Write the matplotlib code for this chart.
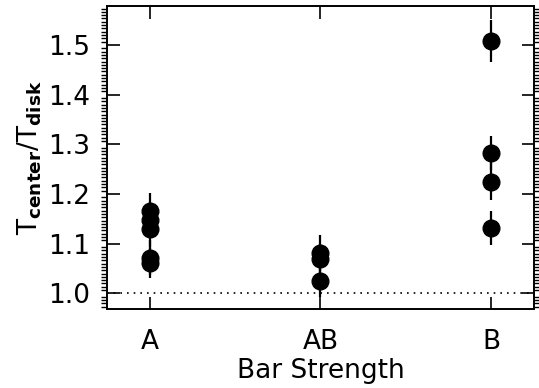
import numpy as np
import matplotlib.pyplot as plt
import matplotlib
from matplotlib.ticker import MultipleLocator, AutoMinorLocator

matplotlib.rc('font', size=19)
matplotlib.rcParams['mathtext.fontset'] = 'dejavusans'

categories = ['A', 'AB', 'B']

# T_center / T_disk per galaxy, grouped by bar strength
ratio_A = [1.165, 1.148, 1.129, 1.072, 1.062]
err_A = [0.037, 0.035, 0.035, 0.035, 0.030]
ratio_AB = [1.082, 1.069, 1.024]
err_AB = [0.036, 0.030, 0.031]
ratio_B = [1.508, 1.282, 1.225, 1.131]
err_B = [0.042, 0.034, 0.038, 0.034]

fig = plt.figure(figsize=(5.39, 3.88), dpi=100)
ax = fig.add_axes([0.1985, 0.2028, 0.7922, 0.7825])

groups = [(ratio_A, err_A), (ratio_AB, err_AB), (ratio_B, err_B)]
for i, (vals, errs) in enumerate(groups):
    xpos = np.full(len(vals), i + 1.0)
    ax.errorbar(xpos, vals, yerr=errs, fmt='o', color='k', ms=12,
                elinewidth=1.6, capsize=0, zorder=3)

ax.axhline(1.0, color='k', lw=1.2, ls=(0, (1, 3)), zorder=1)

ax.set_xlim(0.75, 3.25)
ax.set_ylim(0.968, 1.579)
ax.set_xticks([1, 2, 3])
ax.set_xticklabels(categories)
ax.yaxis.set_major_locator(MultipleLocator(0.1))
ax.yaxis.set_minor_locator(AutoMinorLocator(15))
ax.yaxis.set_major_formatter(matplotlib.ticker.FormatStrFormatter('%.1f'))

ax.tick_params(direction='in', top=True, right=True, width=1.2)
ax.tick_params(axis='y', which='major', length=9, pad=12)
ax.tick_params(axis='y', which='minor', length=4.5, width=1.0, left=True, right=True)
ax.tick_params(axis='x', which='major', length=9, pad=14)
for s in ax.spines.values():
    s.set_linewidth(1.4)

ax.set_xlabel('Bar Strength', labelpad=2)
ax.set_ylabel(r'$\mathregular{T_{\mathbf{center}}/T_{\mathbf{disk}}}$', labelpad=3)

fig.savefig('out.png', dpi=100)
